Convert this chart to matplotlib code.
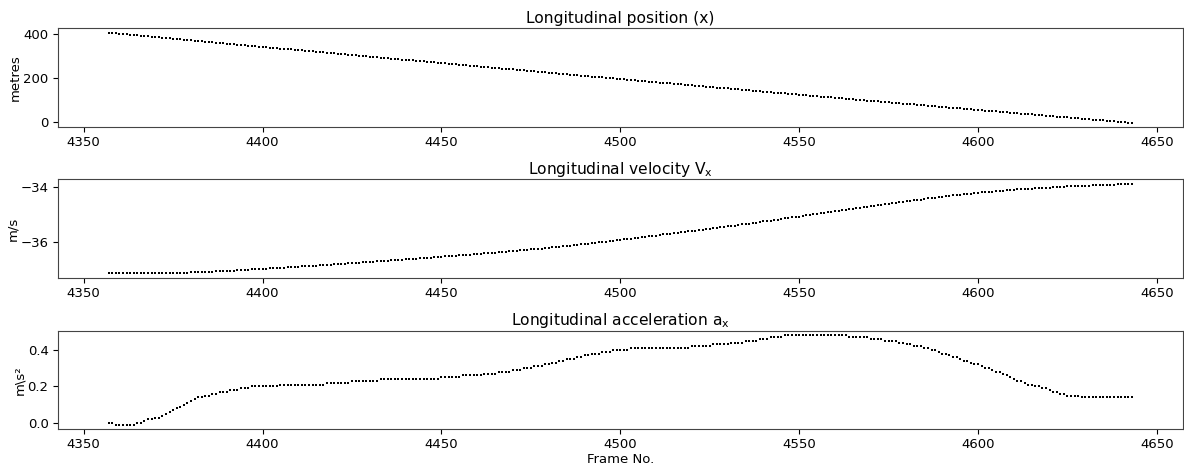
import matplotlib
matplotlib.use('Agg')
import matplotlib.pyplot as plt

#Frame numbers covered by the track
frames = list(range(4357, 4644))

#Longitudinal position in metres, one value per frame
pos_x = [
    406.5, 405.0, 403.5, 402.0, 400.6, 399.1, 397.6, 396.1, 394.6, 393.1,
    391.6, 390.1, 388.7, 387.2, 385.7, 384.2, 382.7, 381.2, 379.7, 378.3,
    376.8, 375.3, 373.8, 372.3, 370.8, 369.3, 367.9, 366.4, 364.9, 363.4,
    361.9, 360.4, 358.9, 357.5, 356.0, 354.5, 353.0, 351.5, 350.0, 348.6,
    347.1, 345.6, 344.1, 342.6, 341.2, 339.7, 338.2, 336.7, 335.2, 333.8,
    332.3, 330.8, 329.3, 327.9, 326.4, 324.9, 323.4, 321.9, 320.5, 319.0,
    317.5, 316.0, 314.6, 313.1, 311.6, 310.1, 308.7, 307.2, 305.7, 304.3,
    302.8, 301.3, 299.8, 298.4, 296.9, 295.4, 294.0, 292.5, 291.0, 289.6,
    288.1, 286.6, 285.2, 283.7, 282.2, 280.8, 279.3, 277.8, 276.4, 274.9,
    273.4, 272.0, 270.5, 269.0, 267.6, 266.1, 264.7, 263.2, 261.7, 260.3,
    258.8, 257.4, 255.9, 254.4, 253.0, 251.5, 250.1, 248.6, 247.1, 245.7,
    244.2, 242.8, 241.3, 239.9, 238.4, 237.0, 235.5, 234.1, 232.6, 231.2,
    229.7, 228.3, 226.8, 225.4, 223.9, 222.5, 221.0, 219.6, 218.1, 216.7,
    215.2, 213.8, 212.3, 210.9, 209.4, 208.0, 206.6, 205.1, 203.7, 202.2,
    200.8, 199.4, 197.9, 196.5, 195.0, 193.6, 192.2, 190.7, 189.3, 187.9,
    186.4, 185.0, 183.6, 182.1, 180.7, 179.3, 177.8, 176.4, 175.0, 173.6,
    172.1, 170.7, 169.3, 167.8, 166.4, 165.0, 163.6, 162.2, 160.7, 159.3,
    157.9, 156.5, 155.1, 153.6, 152.2, 150.8, 149.4, 148.0, 146.6, 145.1,
    143.7, 142.3, 140.9, 139.5, 138.1, 136.7, 135.3, 133.8, 132.4, 131.0,
    129.6, 128.2, 126.8, 125.4, 124.0, 122.6, 121.2, 119.8, 118.4, 117.0,
    115.6, 114.2, 112.8, 111.4, 110.0, 108.6, 107.2, 105.8, 104.4, 103.1,
    101.7, 100.3, 98.9, 97.5, 96.1, 94.7, 93.3, 92.0, 90.6, 89.2,
    87.8, 86.4, 85.0, 83.7, 82.3, 80.9, 79.5, 78.1, 76.8, 75.4,
    74.0, 72.6, 71.3, 69.9, 68.5, 67.1, 65.8, 64.4, 63.0, 61.6,
    60.3, 58.9, 57.5, 56.2, 54.8, 53.4, 52.1, 50.7, 49.3, 48.0,
    46.6, 45.2, 43.9, 42.5, 41.1, 39.8, 38.4, 37.1, 35.7, 34.3,
    33.0, 31.6, 30.2, 28.9, 27.5, 26.2, 24.8, 23.4, 22.1, 20.7,
    19.4, 18.0, 16.7, 15.3, 13.9, 12.6, 11.2, 9.9, 8.5, 7.2,
    5.8, 4.4, 3.1, 1.7, 0.4, -1.0, -2.3,
]

#Longitudinal velocity in m/s
vel_x = [
    -37.17, -37.17, -37.17, -37.17, -37.17, -37.17, -37.17, -37.17, -37.17, -37.17,
    -37.17, -37.17, -37.17, -37.17, -37.17, -37.17, -37.17, -37.16, -37.16, -37.16,
    -37.16, -37.15, -37.15, -37.14, -37.14, -37.13, -37.13, -37.12, -37.12, -37.11,
    -37.10, -37.10, -37.09, -37.08, -37.08, -37.07, -37.06, -37.06, -37.05, -37.04,
    -37.03, -37.03, -37.02, -37.01, -37.00, -36.99, -36.99, -36.98, -36.97, -36.96,
    -36.95, -36.94, -36.94, -36.93, -36.92, -36.91, -36.90, -36.89, -36.89, -36.88,
    -36.87, -36.86, -36.85, -36.84, -36.83, -36.82, -36.82, -36.81, -36.80, -36.79,
    -36.78, -36.77, -36.76, -36.75, -36.74, -36.73, -36.72, -36.72, -36.71, -36.70,
    -36.69, -36.68, -36.67, -36.66, -36.65, -36.64, -36.63, -36.62, -36.61, -36.60,
    -36.59, -36.58, -36.57, -36.56, -36.55, -36.54, -36.53, -36.52, -36.51, -36.50,
    -36.49, -36.48, -36.47, -36.46, -36.45, -36.44, -36.43, -36.42, -36.41, -36.40,
    -36.38, -36.37, -36.36, -36.35, -36.34, -36.33, -36.32, -36.30, -36.29, -36.28,
    -36.27, -36.26, -36.24, -36.23, -36.22, -36.20, -36.19, -36.18, -36.16, -36.15,
    -36.14, -36.12, -36.11, -36.09, -36.08, -36.06, -36.05, -36.03, -36.02, -36.00,
    -35.99, -35.97, -35.96, -35.94, -35.92, -35.91, -35.89, -35.87, -35.86, -35.84,
    -35.83, -35.81, -35.79, -35.78, -35.76, -35.74, -35.73, -35.71, -35.69, -35.68,
    -35.66, -35.65, -35.63, -35.61, -35.60, -35.58, -35.56, -35.55, -35.53, -35.51,
    -35.49, -35.48, -35.46, -35.44, -35.43, -35.41, -35.39, -35.37, -35.36, -35.34,
    -35.32, -35.30, -35.28, -35.26, -35.25, -35.23, -35.21, -35.19, -35.17, -35.15,
    -35.13, -35.11, -35.10, -35.08, -35.06, -35.04, -35.02, -35.00, -34.98, -34.96,
    -34.94, -34.92, -34.90, -34.88, -34.86, -34.85, -34.83, -34.81, -34.79, -34.77,
    -34.75, -34.73, -34.71, -34.69, -34.68, -34.66, -34.64, -34.62, -34.60, -34.58,
    -34.57, -34.55, -34.53, -34.51, -34.50, -34.48, -34.46, -34.45, -34.43, -34.41,
    -34.40, -34.38, -34.36, -34.35, -34.33, -34.32, -34.30, -34.29, -34.27, -34.26,
    -34.25, -34.23, -34.22, -34.21, -34.19, -34.18, -34.17, -34.16, -34.15, -34.14,
    -34.12, -34.11, -34.10, -34.09, -34.08, -34.07, -34.06, -34.06, -34.05, -34.04,
    -34.03, -34.02, -34.02, -34.01, -34.00, -33.99, -33.99, -33.98, -33.97, -33.97,
    -33.96, -33.96, -33.95, -33.94, -33.94, -33.93, -33.93, -33.92, -33.92, -33.91,
    -33.91, -33.90, -33.89, -33.89, -33.88, -33.88, -33.87,
]

#Longitudinal acceleration in m/s^2
acc_x = [
    0.00, 0.00, -0.01, -0.01, -0.01, -0.01, -0.01, -0.01, 0.00, 0.00,
    0.01, 0.02, 0.02, 0.03, 0.03, 0.04, 0.05, 0.06, 0.07, 0.08,
    0.09, 0.10, 0.11, 0.12, 0.13, 0.14, 0.14, 0.15, 0.15, 0.16,
    0.16, 0.17, 0.17, 0.17, 0.18, 0.18, 0.18, 0.19, 0.19, 0.19,
    0.20, 0.20, 0.20, 0.20, 0.20, 0.20, 0.20, 0.20, 0.21, 0.21,
    0.21, 0.21, 0.21, 0.21, 0.21, 0.21, 0.21, 0.21, 0.21, 0.21,
    0.21, 0.22, 0.22, 0.22, 0.22, 0.22, 0.22, 0.22, 0.23, 0.23,
    0.23, 0.23, 0.23, 0.23, 0.23, 0.23, 0.24, 0.24, 0.24, 0.24,
    0.24, 0.24, 0.24, 0.24, 0.24, 0.24, 0.24, 0.24, 0.24, 0.24,
    0.24, 0.24, 0.24, 0.25, 0.25, 0.25, 0.25, 0.25, 0.25, 0.26,
    0.26, 0.26, 0.26, 0.26, 0.26, 0.27, 0.27, 0.27, 0.27, 0.28,
    0.28, 0.28, 0.28, 0.29, 0.29, 0.29, 0.30, 0.30, 0.30, 0.31,
    0.31, 0.31, 0.32, 0.32, 0.33, 0.33, 0.34, 0.34, 0.35, 0.35,
    0.35, 0.36, 0.36, 0.37, 0.37, 0.38, 0.38, 0.38, 0.39, 0.39,
    0.39, 0.40, 0.40, 0.40, 0.40, 0.40, 0.41, 0.41, 0.41, 0.41,
    0.41, 0.41, 0.41, 0.41, 0.41, 0.41, 0.41, 0.41, 0.41, 0.41,
    0.41, 0.41, 0.41, 0.42, 0.42, 0.42, 0.42, 0.42, 0.42, 0.43,
    0.43, 0.43, 0.43, 0.43, 0.44, 0.44, 0.44, 0.44, 0.45, 0.45,
    0.45, 0.45, 0.46, 0.46, 0.46, 0.47, 0.47, 0.47, 0.47, 0.48,
    0.48, 0.48, 0.48, 0.48, 0.48, 0.48, 0.48, 0.48, 0.48, 0.48,
    0.48, 0.48, 0.48, 0.48, 0.48, 0.48, 0.48, 0.47, 0.47, 0.47,
    0.47, 0.47, 0.47, 0.46, 0.46, 0.46, 0.46, 0.45, 0.45, 0.45,
    0.45, 0.44, 0.44, 0.43, 0.43, 0.42, 0.42, 0.42, 0.41, 0.41,
    0.40, 0.40, 0.39, 0.38, 0.38, 0.37, 0.36, 0.36, 0.35, 0.34,
    0.34, 0.33, 0.32, 0.32, 0.31, 0.30, 0.30, 0.29, 0.28, 0.28,
    0.27, 0.26, 0.25, 0.24, 0.23, 0.23, 0.22, 0.21, 0.21, 0.20,
    0.20, 0.19, 0.19, 0.18, 0.17, 0.17, 0.16, 0.16, 0.15, 0.15,
    0.15, 0.15, 0.14, 0.14, 0.14, 0.14, 0.14, 0.14, 0.14, 0.14,
    0.14, 0.14, 0.14, 0.14, 0.14, 0.14, 0.14,
]

#Panel text and tick choices
titles = ['Longitudinal position (x)', 'Longitudinal velocity V$_\\mathregular{x}$',
          'Longitudinal acceleration a$_\\mathregular{x}$']
units = ['metres', 'm/s', 'm\\s²']
yticks = [[0, 200, 400], [-36, -34], [0.0, 0.2, 0.4]]
xticks = [4350, 4400, 4450, 4500, 4550, 4600, 4650]

plt.rcParams['font.family'] = 'DejaVu Sans'
fig = plt.figure(figsize=(11.84, 4.71), dpi=100)

#[left, bottom, width, height] for each panel, in figure fractions
boxes = [[0.0486, 0.7297, 0.9506, 0.2102],
         [0.0486, 0.4104, 0.9506, 0.2089],
         [0.0486, 0.0885, 0.9506, 0.2093]]

for i, values in enumerate([pos_x, vel_x, acc_x]):
    ax = fig.add_axes(boxes[i])
    ax.plot(frames, values, 's', color='k', markersize=2.0, markeredgewidth=0)
    ax.set_title(titles[i], fontsize=11.2, pad=4)
    ax.set_ylabel(units[i], fontsize=9.5, labelpad=1)
    ax.set_xticks(xticks)
    ax.set_yticks(yticks[i])
    if i == 2:
        ax.set_yticklabels(['0.0', '0.2', '0.4'])
    ax.tick_params(labelsize=9.5, pad=3)
    for s in ax.spines.values():
        s.set_color('#444444')

ax.set_xlabel('Frame No.', fontsize=9.5, labelpad=1)

fig.savefig('out.png', dpi=100)
